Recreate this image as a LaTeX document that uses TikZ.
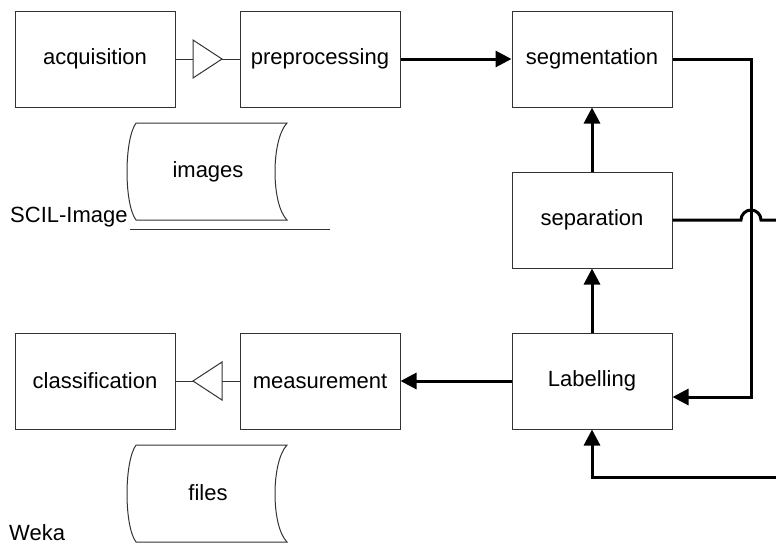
\documentclass[tikz,border=0pt]{standalone}
\usepackage{fontspec}
\setmainfont{Liberation Sans}
\usetikzlibrary{arrows.meta}
\begin{document}
\begin{tikzpicture}[x=1pt,y=-1pt,
  box/.style={draw=black!80,line width=1pt,minimum width=160pt,minimum height=96pt,inner sep=0pt,font=\fontsize{22}{26}\selectfont},
  lbl/.style={inner sep=0pt,font=\fontsize{22}{26}\selectfont},
  thin/.style={draw=black!80,line width=1pt},
  thick/.style={line width=3pt},
  arrow/.style={line width=3pt,-{Triangle[length=16pt,width=16pt]}},
  store/.style={draw=black!80,line width=1pt}]
\useasboundingbox (0,0) rectangle (776,547);
% boxes
\node[box] (acq) at (95,59) {acquisition};
\node[box] (pre) at (320,59) {preprocessing};
\node[box] (seg) at (592,59) {segmentation};
\node[box] (sep) at (592,220) {separation};
\node[box] (lab) at (592,381) {Labelling};
\node[box] (mea) at (320,381) {measurement};
\node[box] (cla) at (95,381) {classification};
% triangle top
\coordinate (t1a) at (193,59);
\coordinate (t1b) at (222,59);
\draw[thin] (acq.east) -- (t1a);
\draw[thin] (t1b) -- (pre.west);
\draw[thin] (193,40) -- (222,59) -- (193,78) -- cycle;
% triangle bottom
\coordinate (t2a) at (193,381);
\coordinate (t2b) at (222,381);
\draw[thin] (cla.east) -- (t2a);
\draw[thin] (t2b) -- (mea.west);
\draw[thin] (222,362) -- (193,381) -- (222,400) -- cycle;
% thick connectors
\draw[arrow] (pre.east) -- (seg.west);
\draw[arrow] (sep.north) -- (seg.south);
\draw[arrow] (lab.north) -- (sep.south);
\draw[arrow] (lab.west) -- (mea.east);
\coordinate (c1) at (751,397);
\draw[arrow] (seg.east) -| (c1) -- (c1 -| lab.east);
\coordinate (c2) at (776,477);
\draw[arrow] (c2) -| (lab.south);
\coordinate (c3) at (776,220);
\draw[thick] (sep.east) -- (741,220) .. controls (741,214.5) and (745.5,210) .. (751,210) .. controls (756.5,210) and (761,214.5) .. (761,220) -- (c3);
% stores
\draw[store] (136,123) -- (287,123) .. controls (271,140) and (271,204) .. (287,220) -- (136,220) .. controls (124,204) and (124,140) .. (136,123);
\node[lbl] (img) at (208,172) {images};
\draw[store] (136,445) -- (287,445) .. controls (271,462) and (271,526) .. (287,542) -- (136,542) .. controls (124,526) and (124,462) .. (136,445);
\node[lbl] (fil) at (208,493) {files};
% labels
\node[lbl,anchor=base west] (scil) at (10,222) {SCIL-Image};
\draw[thin] (130,229) -- (330,229);
\node[lbl,anchor=base west] (weka) at (9,540) {Weka};
\end{tikzpicture}
\end{document}
